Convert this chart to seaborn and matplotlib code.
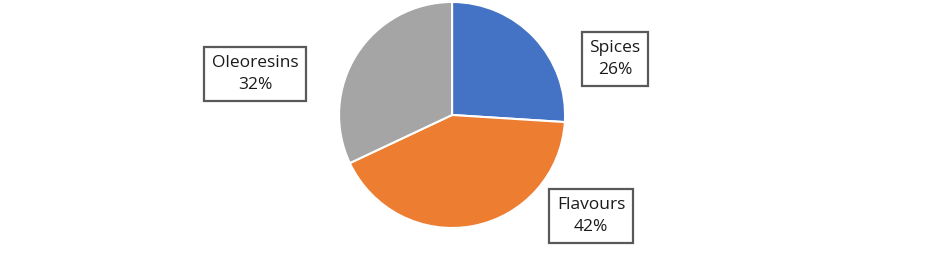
import matplotlib
matplotlib.use("Agg")
import matplotlib.pyplot as plt
import seaborn as sns

categories = ["Spices", "Flavours", "Oleoresins"]
shares = [26, 42, 32]
pct_labels = ["26%", "42%", "32%"]

sns.set_theme(style="white")
plt.rcParams['font.family'] = ['Open Sans', 'DejaVu Sans']

colors = ["#4472C4", "#ED7D31", "#A5A5A5"]

fig = plt.figure(figsize=(9.41, 2.64), dpi=100)
ax = fig.add_axes([0.3603, 0.1364, 0.2402, 0.8561])
ax.pie(shares, colors=colors, startangle=90, counterclock=False,
       radius=1, wedgeprops=dict(edgecolor="white", linewidth=1.5))
ax.set_xlim(-1, 1)
ax.set_ylim(-1, 1)
ax.set_aspect("equal")

label_pos = [(1.442, 0.496), (1.23, -0.894), (-1.743, 0.363)]
for (x, y), cat, pct in zip(label_pos, categories, pct_labels):
    ax.text(x, y, f"{cat}\n{pct}", ha="center", va="center", fontsize=12.5,
            color="#1a1a1a", linespacing=1.5, clip_on=False,
            bbox=dict(boxstyle="square,pad=0.45", facecolor="white",
                      edgecolor="#595959", linewidth=1.6))

fig.savefig("out.png", dpi=100, facecolor="white")
